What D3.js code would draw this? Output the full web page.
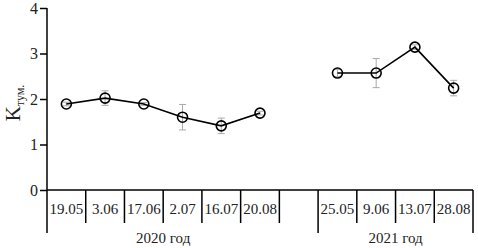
<!DOCTYPE html>
<html>
<head>
<meta charset="utf-8">
<script src="https://cdn.jsdelivr.net/npm/d3@7"></script>
<style>
  body { margin: 0; background: #fff; }
</style>
</head>
<body>
<svg id="canvas" width="478" height="248" font-family="serif"></svg>
<script>
const width = 478;
const height = 248;

const dates2020 = ["19.05", "3.06", "17.06", "2.07", "16.07", "20.08"];
const values2020 = [1.89, 2.02, 1.89, 1.6, 1.41, 1.69];
const errors2020 = [0.04, 0.16, 0.03, 0.28, 0.17, 0.04];

const dates2021 = ["25.05", "9.06", "13.07", "28.08"];
const values2021 = [2.57, 2.57, 3.14, 2.24];
const errors2021 = [0.08, 0.32, 0.05, 0.17];

const years = ["2020 год", "2021 год"];
const yTicks = [0, 1, 2, 3, 4];

const serif = "serif";
const margin = {left: 47, right: 5, top: 8, bottom: 58};

// one empty slot between the two years
const slots = [...dates2020, "gap", ...dates2021];

const x = d3.scaleBand()
    .domain(slots)
    .range([margin.left, width - margin.right])
    .padding(0);

const y = d3.scaleLinear()
    .domain([0, 4])
    .range([height - margin.bottom, margin.top]);

const svg = d3.select("svg#canvas");
const y0 = y(0);

// y axis
const yAxis = svg.append("g")
    .attr("transform", `translate(${margin.left},0)`)
    .call(d3.axisLeft(y).tickValues(yTicks).tickFormat(d3.format("d")).tickSize(7).tickPadding(2));
yAxis.attr("font-family", serif);
yAxis.select(".domain").remove();
yAxis.selectAll("line").attr("stroke", "#000").attr("stroke-width", 1.5);
yAxis.selectAll("text")
    .attr("font-size", 16)
    .attr("fill", "#222");

svg.append("line")
    .attr("x1", margin.left).attr("x2", margin.left)
    .attr("y1", margin.top).attr("y2", y0 + 43)
    .attr("stroke", "#000").attr("stroke-width", 1.5);

// baseline
svg.append("line")
    .attr("x1", margin.left).attr("x2", x.range()[1])
    .attr("y1", y0).attr("y2", y0)
    .attr("stroke", "#000").attr("stroke-width", 1.5);

// category separators, long ones bound each year
const seps = slots.slice(0, -1).map(d => ({
    pos: x(d) + x.bandwidth(),
    long: d === "gap"
  })).concat([{pos: x.range()[1], long: true}]);

svg.append("g")
  .selectAll("line")
  .data(seps)
  .join("line")
    .attr("x1", d => d.pos).attr("x2", d => d.pos)
    .attr("y1", y0)
    .attr("y2", d => d.long ? y0 + 43 : y0 + 33)
    .attr("stroke", "#000").attr("stroke-width", 1.5);

// date labels
svg.append("g")
    .attr("font-family", serif)
  .selectAll("text")
  .data([...dates2020, ...dates2021])
  .join("text")
    .attr("x", d => x(d) + x.bandwidth() / 2)
    .attr("y", y0 + 24)
    .attr("text-anchor", "middle")
    .attr("font-size", 15)
    .attr("fill", "#222")
    .text(d => d);

// year labels
const yearSpans = [
  [x(dates2020[0]), x(dates2020[dates2020.length - 1]) + x.bandwidth()],
  [x(dates2021[0]), x(dates2021[dates2021.length - 1]) + x.bandwidth()]
];
svg.append("g")
    .attr("font-family", serif)
  .selectAll("text")
  .data(years)
  .join("text")
    .attr("x", (d, i) => (yearSpans[i][0] + yearSpans[i][1]) / 2)
    .attr("y", y0 + 53)
    .attr("text-anchor", "middle")
    .attr("font-size", 15)
    .attr("fill", "#222")
    .text(d => d);

// y label K_тум.
const yl = svg.append("text")
    .attr("transform", `translate(20,${y(2) + 4}) rotate(-90)`)
    .attr("text-anchor", "middle")
    .attr("font-family", serif)
    .attr("font-size", 21)
    .attr("fill", "#222");
yl.append("tspan").text("K");
yl.append("tspan").attr("font-size", 12).attr("dy", 4).text("тум.");

const series = [
  dates2020.map((d, i) => ({date: d, v: values2020[i], e: errors2020[i]})),
  dates2021.map((d, i) => ({date: d, v: values2021[i], e: errors2021[i]}))
];

const cx = d => x(d.date) + x.bandwidth() / 2;

series.forEach(s => {
  const g = svg.append("g");

  // error bars
  const eb = g.append("g")
      .attr("stroke", "#aaa")
      .attr("stroke-width", 1)
    .selectAll("g")
    .data(s)
    .join("g");
  eb.append("line")
      .attr("x1", cx).attr("x2", cx)
      .attr("y1", d => y(d.v - d.e)).attr("y2", d => y(d.v + d.e));
  eb.append("line")
      .attr("x1", d => cx(d) - 3.5).attr("x2", d => cx(d) + 3.5)
      .attr("y1", d => y(d.v + d.e)).attr("y2", d => y(d.v + d.e));
  eb.append("line")
      .attr("x1", d => cx(d) - 3.5).attr("x2", d => cx(d) + 3.5)
      .attr("y1", d => y(d.v - d.e)).attr("y2", d => y(d.v - d.e));

  g.append("path")
      .datum(s)
      .attr("fill", "none")
      .attr("stroke", "#000")
      .attr("stroke-width", 1.6)
      .attr("d", d3.line().x(cx).y(d => y(d.v)));

  g.append("g")
    .selectAll("circle")
    .data(s)
    .join("circle")
      .attr("cx", cx)
      .attr("cy", d => y(d.v))
      .attr("r", 5)
      .attr("fill", "none")
      .attr("stroke", "#000")
      .attr("stroke-width", 1.6);
});
</script>
</body>
</html>
